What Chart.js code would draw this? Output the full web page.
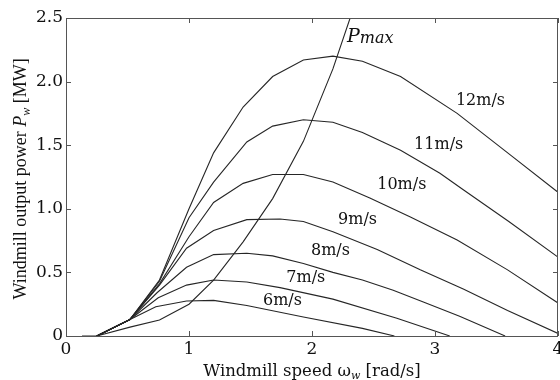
<!DOCTYPE html>
<html>
<head>
<meta charset="utf-8">
<script src="https://cdn.jsdelivr.net/npm/chart.js@4.4.0/dist/chart.umd.min.js"></script>
<style>
body { margin: 0; background: #fff; }
canvas { display: block; }
</style>
</head>
<body>
<canvas id="myChart" width="560" height="380"></canvas>
<script>
// windmill speed [rad/s] and output power [MW] for each wind speed
var w6 = [0.13, 0.25, 0.52, 0.73, 0.98, 1.20, 1.47, 1.93, 2.41, 2.67];
var p6 = [0, 0, 0.13, 0.23, 0.275, 0.28, 0.24, 0.15, 0.06, 0];
var w7 = [0.25, 0.52, 0.75, 0.98, 1.20, 1.47, 1.74, 2.17, 2.69, 3.12];
var p7 = [0, 0.13, 0.30, 0.40, 0.44, 0.425, 0.38, 0.29, 0.14, 0];
var w8 = [0.25, 0.52, 0.74, 0.98, 1.20, 1.47, 1.68, 1.93, 2.17, 2.41, 2.66, 2.90, 3.20, 3.57];
var p8 = [0, 0.13, 0.34, 0.54, 0.64, 0.65, 0.63, 0.57, 0.50, 0.44, 0.36, 0.27, 0.155, 0];
var w9 = [0.25, 0.52, 0.76, 0.98, 1.20, 1.47, 1.74, 1.93, 2.17, 2.53, 2.88, 3.23, 3.59, 4.0];
var p9 = [0, 0.13, 0.40, 0.69, 0.83, 0.915, 0.92, 0.90, 0.82, 0.68, 0.52, 0.37, 0.20, 0.02];
var w10 = [0.25, 0.52, 0.76, 1.0, 1.20, 1.44, 1.68, 1.93, 2.17, 2.47, 2.80, 3.18, 3.59, 4.0];
var p10 = [0, 0.13, 0.41, 0.78, 1.05, 1.20, 1.27, 1.27, 1.21, 1.085, 0.935, 0.755, 0.52, 0.26];
var w11 = [0.25, 0.52, 0.76, 1.0, 1.20, 1.47, 1.68, 1.93, 2.17, 2.41, 2.72, 3.04, 3.23, 3.60, 4.0];
var p11 = [0, 0.13, 0.43, 0.93, 1.21, 1.525, 1.65, 1.70, 1.68, 1.60, 1.46, 1.28, 1.15, 0.90, 0.62];
var w12 = [0.25, 0.52, 0.76, 1.0, 1.20, 1.44, 1.68, 1.93, 2.17, 2.41, 2.72, 3.18, 3.63, 4.0];
var p12 = [0, 0.13, 0.44, 1.0, 1.44, 1.80, 2.04, 2.17, 2.20, 2.16, 2.04, 1.75, 1.41, 1.13];
var wMax = [0.25, 0.52, 0.76, 1.0, 1.20, 1.44, 1.68, 1.93, 2.17, 2.31];
var pMax = [0, 0.07, 0.126, 0.25, 0.44, 0.74, 1.08, 1.53, 2.10, 2.5];

var speedNames = ['6m/s', '7m/s', '8m/s', '9m/s', '10m/s', '11m/s', '12m/s'];
// where each name sits, in axis units (centre of text)
var nameX = [1.76, 1.95, 2.15, 2.37, 2.73, 3.03, 3.37];
var nameY = [0.275, 0.46, 0.67, 0.91, 1.19, 1.50, 1.85];
var pmaxX = 2.285, pmaxY = 2.31;

var xTicks = [0, 1, 2, 3, 4];
var yTicks = [0, 0.5, 1.0, 1.5, 2.0, 2.5];

function pts(ws, ps) {
    return ws.map(function (w, i) { return { x: w, y: ps[i] }; });
}

function curve(label, ws, ps) {
    return {
        label: label,
        data: pts(ws, ps),
        borderColor: '#262626',
        borderWidth: 1.1,
        pointRadius: 0,
        tension: 0,
        fill: false
    };
}

function drawRuns(ctx, runs, x, y) {
    var total = 0;
    runs.forEach(function (r) {
        ctx.font = r.font;
        r.w = ctx.measureText(r.text).width;
        total += r.w;
    });
    var cx = x - total / 2;
    runs.forEach(function (r) {
        ctx.font = r.font;
        ctx.fillText(r.text, cx, y + (r.dy || 0));
        cx += r.w;
    });
}

var decor = {
    id: 'decor',
    afterDraw: function (chart) {
        var ctx = chart.ctx, a = chart.chartArea;
        var x = chart.scales.x, y = chart.scales.y;
        ctx.save();
        ctx.strokeStyle = '#555';
        ctx.lineWidth = 1;
        ctx.strokeRect(a.left + 0.5, a.top + 0.5, a.right - a.left - 1, a.bottom - a.top);
        ctx.beginPath();
        xTicks.forEach(function (v) {
            var px = Math.round(x.getPixelForValue(v)) + 0.5;
            ctx.moveTo(px, a.bottom); ctx.lineTo(px, a.bottom - 5);
            ctx.moveTo(px, a.top); ctx.lineTo(px, a.top + 5);
        });
        yTicks.forEach(function (v) {
            var py = Math.round(y.getPixelForValue(v)) + 0.5;
            ctx.moveTo(a.left, py); ctx.lineTo(a.left + 5, py);
            ctx.moveTo(a.right, py); ctx.lineTo(a.right - 5, py);
        });
        ctx.stroke();

        ctx.fillStyle = '#111';
        ctx.textAlign = 'left';
        ctx.textBaseline = 'middle';
        ctx.font = '16px "DejaVu Serif"';
        speedNames.forEach(function (s, i) {
            var tw = ctx.measureText(s).width;
            ctx.fillText(s, x.getPixelForValue(nameX[i]) - tw / 2, y.getPixelForValue(nameY[i]));
        });

        ctx.textBaseline = 'alphabetic';
        var px0 = x.getPixelForValue(pmaxX), py0 = y.getPixelForValue(pmaxY);
        ctx.font = 'italic 19px "DejaVu Serif"';
        ctx.fillText('P', px0, py0);
        var pw = ctx.measureText('P').width;
        ctx.font = 'italic 16px "DejaVu Serif"';
        ctx.fillText('max', px0 + pw, py0 + 1);

        // axis titles
        var cx = (a.left + a.right) / 2;
        drawRuns(ctx, [
            { text: 'Windmill speed ω', font: '16.5px "DejaVu Serif"' },
            { text: 'w', font: 'italic 11px "DejaVu Serif"', dy: 3 },
            { text: ' [rad/s]', font: '16.5px "DejaVu Serif"' }
        ], cx, 376);

        ctx.translate(26, (a.top + a.bottom) / 2 + 2);
        ctx.rotate(-Math.PI / 2);
        drawRuns(ctx, [
            { text: 'Windmill output power ', font: '18px "Liberation Serif"' },
            { text: 'P', font: 'italic 18px "Liberation Serif"' },
            { text: 'w', font: 'italic 12px "Liberation Serif"', dy: 4 },
            { text: ' [MW]', font: '18px "Liberation Serif"' }
        ], 0, 0);
        ctx.restore();
    }
};

new Chart('myChart', {
    type: 'line',
    data: {
        datasets: [
            curve('6m/s', w6, p6),
            curve('7m/s', w7, p7),
            curve('8m/s', w8, p8),
            curve('9m/s', w9, p9),
            curve('10m/s', w10, p10),
            curve('11m/s', w11, p11),
            curve('12m/s', w12, p12),
            curve('Pmax', wMax, pMax)
        ]
    },
    options: {
        responsive: false,
        animation: false,
        layout: { padding: { top: 18, right: 2, left: 0, bottom: 0 } },
        plugins: { legend: { display: false }, tooltip: { enabled: false } },
        scales: {
            x: {
                type: 'linear',
                min: 0,
                max: 4,
                grid: { display: false, drawTicks: false },
                border: { display: false },
                ticks: {
                    stepSize: 1,
                    padding: 3,
                    color: '#111',
                    font: { family: 'DejaVu Serif', size: 17 },
                    maxRotation: 0
                },
                afterFit: function (s) { s.height = 44; s.paddingLeft = 0; s.paddingRight = 0; }
            },
            y: {
                min: 0,
                max: 2.5,
                grid: { display: false, drawTicks: false },
                border: { display: false },
                ticks: {
                    stepSize: 0.5,
                    padding: 3,
                    color: '#111',
                    font: { family: 'DejaVu Serif', size: 17 },
                    callback: function (v) { return v === 0 ? '0' : v.toFixed(1); }
                },
                afterFit: function (s) { s.width = 66; }
            }
        }
    },
    plugins: [decor]
});
</script>
</body>
</html>
